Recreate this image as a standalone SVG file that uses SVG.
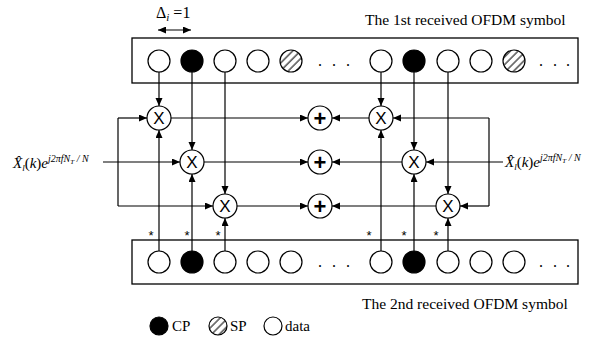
<svg xmlns="http://www.w3.org/2000/svg" width="605" height="340" viewBox="0 0 605 340">
<defs>
<marker id="arr" markerUnits="userSpaceOnUse" markerWidth="9" markerHeight="8" refX="8" refY="3.5" orient="auto">
<path d="M0,0 L8,3.5 L0,7 z" fill="#000"/>
</marker>
<marker id="arrs" markerUnits="userSpaceOnUse" markerWidth="9" markerHeight="8" refX="0" refY="3.5" orient="auto">
<path d="M8,0 L0,3.5 L8,7 z" fill="#000"/>
</marker>
<pattern id="hatch" patternUnits="userSpaceOnUse" width="5.5" height="5.5" patternTransform="rotate(45)">
<line x1="1" y1="0" x2="1" y2="5.5" stroke="#444" stroke-width="1.4"/>
</pattern>
</defs>
<style>
.box{fill:#fff;stroke:#000;stroke-width:1.3}
.d{fill:#fff;stroke:#000;stroke-width:1.2}
.cp{fill:#000;stroke:#000;stroke-width:1.2}
.sp{fill:url(#hatch);stroke:#000;stroke-width:1.2}
.op{fill:#fff;stroke:#000;stroke-width:1.2}
.ln{fill:none;stroke:#000;stroke-width:1.2}
.a{marker-end:url(#arr)}
.t{font-family:"Liberation Serif","Times New Roman",serif;fill:#000}
.m{font-family:"Liberation Serif","Times New Roman",serif;font-style:italic;fill:#000}
.x{font-family:"Liberation Sans",Arial,sans-serif;font-size:17px;text-anchor:middle;fill:#000}
.p{font-family:"Liberation Sans",Arial,sans-serif;font-size:22px;font-weight:bold;text-anchor:middle;fill:#000}
.dot{font-family:"Liberation Serif",serif;font-size:16px;fill:#000}
.st{font-family:"Liberation Sans",Arial,sans-serif;font-size:13px;text-anchor:middle;fill:#000}
</style>

<g id="top-symbol">
<rect class="box" x="132" y="38" width="446" height="45"/>
<circle class="d" cx="159" cy="61" r="11"/>
<circle class="cp" cx="192" cy="61" r="11"/>
<circle class="d" cx="225" cy="61" r="11"/>
<circle class="d" cx="258" cy="61" r="11"/>
<circle class="sp" cx="291" cy="61" r="11"/>
<text class="dot" x="318" y="66">.</text><text class="dot" x="332" y="66">.</text><text class="dot" x="346" y="66">.</text>
<circle class="d" cx="381" cy="61" r="11"/>
<circle class="cp" cx="414" cy="61" r="11"/>
<circle class="d" cx="448" cy="61" r="11"/>
<circle class="d" cx="481" cy="61" r="11"/>
<circle class="sp" cx="514" cy="61" r="11"/>
<text class="dot" x="539" y="66">.</text><text class="dot" x="553" y="66">.</text><text class="dot" x="566" y="66">.</text>
<text class="t" x="365" y="25" font-size="15.5">The 1st received OFDM symbol</text>
</g>

<g id="bottom-symbol">
<rect class="box" x="132" y="240" width="446" height="44"/>
<circle class="d" cx="159" cy="262" r="11"/>
<circle class="cp" cx="192" cy="262" r="11"/>
<circle class="d" cx="225" cy="262" r="11"/>
<circle class="d" cx="258" cy="262" r="11"/>
<circle class="d" cx="291" cy="262" r="11"/>
<text class="dot" x="318" y="267">.</text><text class="dot" x="332" y="267">.</text><text class="dot" x="346" y="267">.</text>
<circle class="d" cx="381" cy="262" r="11"/>
<circle class="cp" cx="414" cy="262" r="11"/>
<circle class="d" cx="448" cy="262" r="11"/>
<circle class="d" cx="481" cy="262" r="11"/>
<circle class="d" cx="514" cy="262" r="11"/>
<text class="dot" x="539" y="267">.</text><text class="dot" x="553" y="267">.</text><text class="dot" x="566" y="267">.</text>
<text class="t" x="362" y="309" font-size="15.5">The 2nd received OFDM symbol</text>
</g>

<g id="spacing">
<text class="t" x="156" y="18" font-size="16">Δ<tspan class="m" font-size="11" dy="3">i</tspan><tspan dy="-3"> =1</tspan></text>
<line class="ln" x1="158" y1="30" x2="191" y2="30" marker-start="url(#arrs)" marker-end="url(#arr)"/>
</g>

<g id="connectors">
<line class="ln a" x1="159" y1="72" x2="159" y2="106"/>
<line class="ln a" x1="192" y1="72" x2="192" y2="150"/>
<line class="ln a" x1="225" y1="72" x2="225" y2="194"/>
<line class="ln a" x1="159" y1="251" x2="159" y2="130"/>
<line class="ln a" x1="192" y1="251" x2="192" y2="174"/>
<line class="ln a" x1="225" y1="251" x2="225" y2="218"/>
<line class="ln a" x1="381" y1="72" x2="381" y2="106"/>
<line class="ln a" x1="414" y1="72" x2="414" y2="150"/>
<line class="ln a" x1="448" y1="72" x2="448" y2="194"/>
<line class="ln a" x1="381" y1="251" x2="381" y2="130"/>
<line class="ln a" x1="414" y1="251" x2="414" y2="174"/>
<line class="ln a" x1="448" y1="251" x2="448" y2="218"/>
<line class="ln" x1="118" y1="118" x2="118" y2="206"/>
<line class="ln a" x1="118" y1="118" x2="147" y2="118"/>
<line class="ln a" x1="103" y1="162" x2="180" y2="162"/>
<line class="ln a" x1="118" y1="206" x2="213" y2="206"/>
<line class="ln" x1="489" y1="118" x2="489" y2="206"/>
<line class="ln a" x1="489" y1="118" x2="393" y2="118"/>
<line class="ln a" x1="503" y1="162" x2="426" y2="162"/>
<line class="ln a" x1="489" y1="206" x2="460" y2="206"/>
<line class="ln a" x1="171" y1="118" x2="308" y2="118"/>
<line class="ln a" x1="204" y1="162" x2="308" y2="162"/>
<line class="ln a" x1="237" y1="206" x2="308" y2="206"/>
<line class="ln a" x1="369" y1="118" x2="332" y2="118"/>
<line class="ln a" x1="402" y1="162" x2="332" y2="162"/>
<line class="ln a" x1="436" y1="206" x2="332" y2="206"/>
</g>

<g id="conj-marks">
<text class="st" x="151" y="240">*</text>
<text class="st" x="187" y="240">*</text>
<text class="st" x="218" y="240">*</text>
<text class="st" x="369" y="240">*</text>
<text class="st" x="404" y="240">*</text>
<text class="st" x="436" y="240">*</text>
</g>

<g id="mul-L1"><circle class="op" cx="159" cy="118" r="12"/><text class="x" x="159" y="124">X</text></g>
<g id="mul-L2"><circle class="op" cx="192" cy="162" r="12"/><text class="x" x="192" y="168">X</text></g>
<g id="mul-L3"><circle class="op" cx="225" cy="206" r="12"/><text class="x" x="225" y="212">X</text></g>
<g id="mul-R1"><circle class="op" cx="381" cy="118" r="12"/><text class="x" x="381" y="124">X</text></g>
<g id="mul-R2"><circle class="op" cx="414" cy="162" r="12"/><text class="x" x="414" y="168">X</text></g>
<g id="mul-R3"><circle class="op" cx="448" cy="206" r="12"/><text class="x" x="448" y="212">X</text></g>
<g id="add-1"><circle class="op" cx="320" cy="118" r="12"/><text class="p" x="320" y="126">+</text></g>
<g id="add-2"><circle class="op" cx="320" cy="162" r="12"/><text class="p" x="320" y="170">+</text></g>
<g id="add-3"><circle class="op" cx="320" cy="206" r="12"/><text class="p" x="320" y="214">+</text></g>

<g id="ref-left">
<text class="m" x="13" y="168" font-size="15">X̂<tspan font-size="9" dy="3">l</tspan><tspan dy="-3" font-style="normal">(</tspan>k<tspan font-style="normal">)</tspan>e<tspan font-size="10" dy="-6">j2πfN</tspan><tspan font-size="7" dy="2">T</tspan><tspan font-size="10" dy="-2"> / N</tspan></text>
</g>
<g id="ref-right">
<text class="m" x="505" y="167" font-size="15">X̂<tspan font-size="9" dy="3">l</tspan><tspan dy="-3" font-style="normal">(</tspan>k<tspan font-style="normal">)</tspan>e<tspan font-size="10" dy="-6">j2πfN</tspan><tspan font-size="7" dy="2">T</tspan><tspan font-size="10" dy="-2"> / N</tspan></text>
</g>

<g id="legend">
<circle class="cp" cx="159" cy="326" r="9"/>
<text class="t" x="172" y="331" font-size="15">CP</text>
<circle class="sp" cx="218" cy="326" r="9"/>
<text class="t" x="230" y="331" font-size="15">SP</text>
<circle class="d" cx="273" cy="326" r="9"/>
<text class="t" x="285" y="331" font-size="15">data</text>
</g>
</svg>
